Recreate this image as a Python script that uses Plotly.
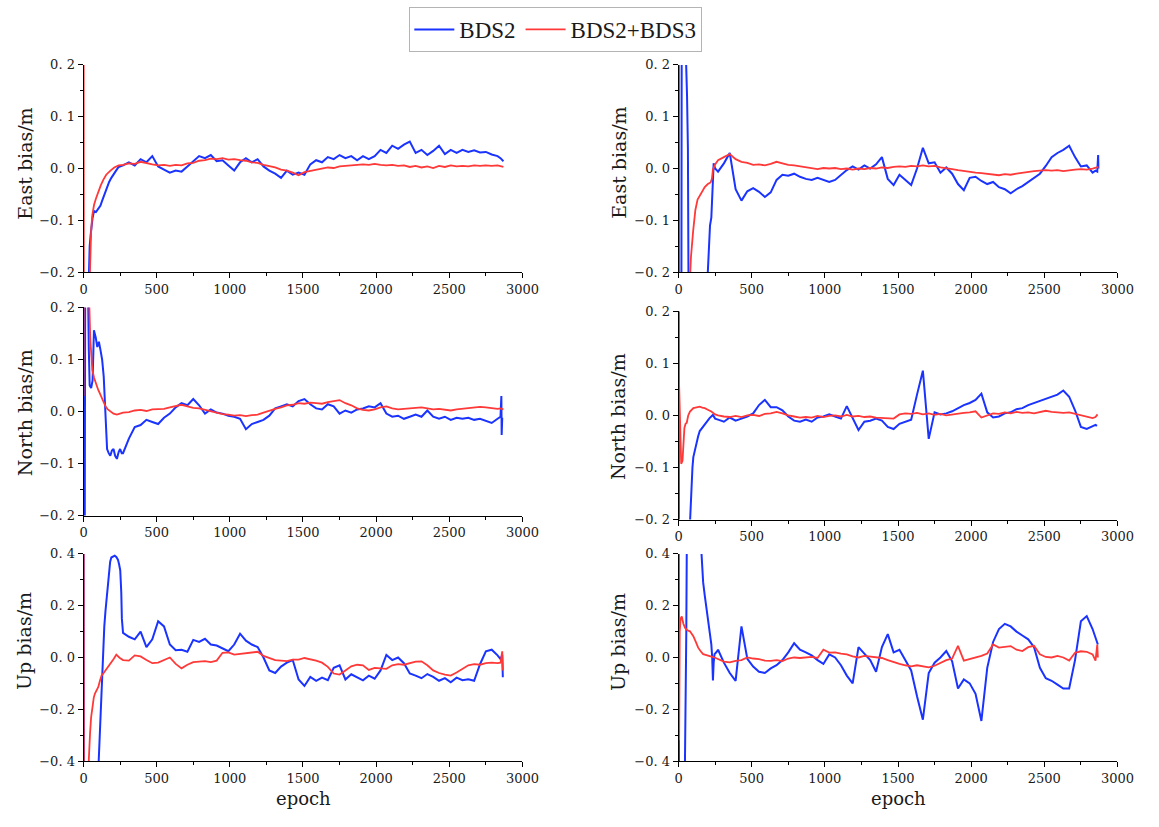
import plotly.graph_objects as go

# ---------------- data ----------------
# common sampling epochs for the steady part of every series
GRID = list(range(270, 2831, 40))

X_TICKS = [0, 500, 1000, 1500, 2000, 2500, 3000]
Y_TICKS_SMALL = [-0.2, -0.1, 0.0, 0.1, 0.2]
Y_TICKS_SMALL_TEXT = ["\u22120.\u00a02", "\u22120.\u00a01", "0.\u00a00", "0.\u00a01", "0.\u00a02"]
Y_TICKS_UP = [-0.4, -0.2, 0.0, 0.2, 0.4]
Y_TICKS_UP_TEXT = ["\u22120.\u00a04", "\u22120.\u00a02", "0.\u00a00", "0.\u00a02", "0.\u00a04"]

# ---- East, left panel ----
east_l_bds2_head_x = [0, 3, 36, 42, 48, 55, 62, 72, 85, 100, 115, 130, 145, 160, 175, 190, 205, 220, 240]
east_l_bds2_head_y = [-0.6, -0.6, -0.2, -0.15, -0.13, -0.11, -0.095, -0.082, -0.084, -0.078, -0.072, -0.06,
                      -0.048, -0.036, -0.026, -0.018, -0.01, -0.005, 0.003]
east_l_bds2_body = [0.006, 0.012, 0.006, 0.018, 0.012,
                    0.024, 0.004, -0.002, -0.008, -0.004,
                    -0.006, 0.004, 0.014, 0.024, 0.02,
                    0.026, 0.014, 0.016, 0.006, -0.004,
                    0.012, 0.02, 0.012, 0.018, 0.004,
                    -0.004, -0.01, -0.018, -0.004, -0.012,
                    -0.008, -0.012, 0.008, 0.016, 0.012,
                    0.022, 0.018, 0.026, 0.02, 0.024,
                    0.016, 0.024, 0.018, 0.024, 0.036,
                    0.03, 0.044, 0.038, 0.046, 0.052,
                    0.03, 0.036, 0.026, 0.034, 0.044,
                    0.028, 0.036, 0.03, 0.036, 0.032,
                    0.035, 0.031, 0.032, 0.027, 0.024]
east_l_bds2_tail_x = [2850, 2870]
east_l_bds2_tail_y = [0.02, 0.014]

east_l_both_head_x = [0, 3, 40, 46, 52, 60, 72, 85, 100, 117, 135, 155, 184, 210, 240]
east_l_both_head_y = [0.6, -0.6, -0.24, -0.17, -0.12, -0.09, -0.07, -0.058, -0.045, -0.033, -0.022, -0.012,
                      -0.004, 0.002, 0.006]
east_l_both_body = [0.007, 0.01, 0.009, 0.013, 0.01,
                    0.008, 0.006, 0.007, 0.005, 0.007,
                    0.006, 0.01, 0.011, 0.015, 0.016,
                    0.019, 0.018, 0.02, 0.017, 0.018,
                    0.016, 0.015, 0.012, 0.011, 0.007,
                    0.005, 0.002, -0.002, -0.004, -0.008,
                    -0.013, -0.007, -0.005, -0.002, -0.001,
                    0.002, 0.001, 0.004, 0.005, 0.006,
                    0.006, 0.008, 0.007, 0.009, 0.007,
                    0.006, 0.007, 0.005, 0.006, 0.003,
                    0.005, 0.002, 0.004, 0.001, 0.005,
                    0.003, 0.006, 0.004, 0.005, 0.004,
                    0.006, 0.005, 0.006, 0.005, 0.006]
east_l_both_tail_x = [2850, 2870]
east_l_both_tail_y = [0.005, 0.003]

# ---- East, right panel ----
east_r_bds2_head_x = [0, 3, 18, 22, 30, 38, 46, 52, 58, 64, 70, 190, 200, 208, 215, 224, 232, 240, 250]
east_r_bds2_head_y = [0.6, -0.6, -0.6, 0.35, 0.24, 0.3, 0.22, 0.2, 0.14, 0.04, -0.35, -0.35, -0.2, -0.14,
                      -0.11, -0.095, -0.03, 0.01, 0.0]
east_r_bds2_body = [-0.006, 0.01, 0.03, -0.04, -0.062,
                    -0.044, -0.038, -0.045, -0.055, -0.046,
                    -0.022, -0.012, -0.014, -0.01, -0.016,
                    -0.02, -0.022, -0.018, -0.022, -0.026,
                    -0.022, -0.012, -0.003, 0.004, -0.002,
                    0.006, 0.0, 0.008, 0.022, -0.02,
                    -0.032, -0.012, -0.022, -0.032, 0.0,
                    0.04, 0.01, 0.012, -0.008, 0.002,
                    -0.01, -0.03, -0.042, -0.018, -0.016,
                    -0.024, -0.03, -0.026, -0.036, -0.04,
                    -0.048, -0.04, -0.034, -0.026, -0.018,
                    -0.01, 0.005, 0.022, 0.03, 0.036,
                    0.044, 0.022, 0.004, 0.006, -0.008]
east_r_bds2_tail_x = [2850, 2862, 2868, 2870]
east_r_bds2_tail_y = [-0.004, -0.006, 0.026, 0.0]

east_r_both_head_x = [0, 3, 72, 85, 100, 115, 130, 145, 160, 179, 200, 219, 228, 235, 250]
east_r_both_head_y = [0.6, -0.6, -0.25, -0.17, -0.12, -0.08, -0.06, -0.052, -0.045, -0.036, -0.03, -0.027,
                      -0.02, -0.002, 0.008]
east_r_both_body = [0.016, 0.022, 0.028, 0.018, 0.013,
                    0.011, 0.007, 0.008, 0.006, 0.009,
                    0.013, 0.01, 0.007, 0.006, 0.004,
                    0.003, 0.001, -0.001, 0.001, 0.0,
                    0.001, -0.001, 0.0, -0.002, 0.0,
                    -0.001, 0.001, 0.0, 0.002, 0.001,
                    0.003, 0.004, 0.003, 0.005, 0.004,
                    0.006, 0.004, 0.005, 0.002, 0.001,
                    -0.001, -0.003, -0.005, -0.006, -0.008,
                    -0.009, -0.01, -0.012, -0.013, -0.011,
                    -0.012, -0.01, -0.008, -0.007, -0.005,
                    -0.004, -0.003, -0.004, -0.003, -0.005,
                    -0.003, -0.002, -0.001, -0.002, 0.0]
east_r_both_tail_x = [2850, 2870]
east_r_both_tail_y = [0.001, 0.003]

# ---- North, left panel ----
north_l_bds2_head_x = [0, 6, 12, 20, 30, 36, 42, 52, 62, 71, 83, 94, 105, 116, 127, 138, 150, 161, 172, 183,
                       194, 205, 216, 228, 240, 250, 261]
north_l_bds2_head_y = [-0.6, -0.6, 0.35, 0.3, 0.25, 0.12, 0.05, 0.045, 0.06, 0.156, 0.143, 0.124, 0.134,
                       0.118, 0.1, 0.067, 0.0, -0.072, -0.08, -0.085, -0.075, -0.072, -0.085, -0.091,
                       -0.078, -0.072, -0.08]
north_l_bds2_body = [-0.08, -0.052, -0.03, -0.026, -0.016,
                     -0.02, -0.024, -0.012, -0.004, 0.008,
                     0.016, 0.012, 0.024, 0.012, -0.004,
                     0.004, -0.002, -0.004, -0.008, -0.01,
                     -0.014, -0.034, -0.024, -0.02, -0.016,
                     -0.008, 0.006, 0.01, 0.014, 0.01,
                     0.02, 0.024, 0.014, 0.006, 0.004,
                     0.014, 0.01, -0.004, 0.002, -0.002,
                     0.004, 0.006, 0.01, 0.008, 0.016,
                     -0.004, -0.01, -0.008, -0.014, -0.01,
                     -0.006, -0.01, 0.002, -0.01, -0.014,
                     -0.01, -0.016, -0.012, -0.014, -0.012,
                     -0.016, -0.014, -0.018, -0.022, -0.014]
north_l_bds2_tail_x = [2850, 2856, 2858, 2862]
north_l_bds2_tail_y = [-0.01, 0.03, -0.045, -0.012]

north_l_both_head_x = [0, 2, 8, 30, 40, 46, 52, 60, 72, 83, 100, 116, 133, 150, 166, 183, 205, 228, 250]
north_l_both_head_y = [0.03, 0.6, 0.3, 0.25, 0.2, 0.14, 0.1, 0.08, 0.065, 0.054, 0.042, 0.032, 0.02, 0.01,
                       0.004, 0.001, -0.004, -0.006, -0.004]
north_l_both_body = [-0.002, -0.001, 0.002, 0.003, 0.001,
                     0.004, 0.004, 0.005, 0.008, 0.01,
                     0.013, 0.01, 0.007, 0.006, 0.003,
                     0.001, -0.002, -0.005, -0.006, -0.008,
                     -0.007, -0.009, -0.007, -0.006, -0.002,
                     0.002, 0.005, 0.008, 0.012, 0.013,
                     0.016, 0.015, 0.017, 0.016, 0.015,
                     0.018, 0.02, 0.022, 0.016, 0.012,
                     0.006, 0.003, 0.002, 0.004, 0.008,
                     0.01, 0.006, 0.004, 0.005, 0.006,
                     0.007, 0.008, 0.006, 0.004, 0.005,
                     0.003, 0.002, 0.004, 0.005, 0.006,
                     0.007, 0.009, 0.008, 0.006, 0.005]
north_l_both_tail_x = [2850, 2870]
north_l_both_tail_y = [0.006, 0.004]

# ---- North, right panel ----
north_r_bds2_head_x = [0, 3, 76, 82, 89, 95, 101, 112, 123, 134, 145, 160, 179, 195, 212, 235, 250]
north_r_bds2_head_y = [0.6, -0.6, -0.22, -0.17, -0.137, -0.1, -0.08, -0.065, -0.055, -0.04, -0.03, -0.024,
                       -0.018, -0.01, -0.005, 0.001, -0.006]
north_r_bds2_body = [-0.008, -0.012, -0.004, -0.01, -0.006,
                     -0.002, 0.004, 0.02, 0.03, 0.016,
                     0.016, 0.01, -0.002, -0.01, -0.012,
                     -0.008, -0.012, -0.004, -0.002, 0.002,
                     -0.002, -0.006, 0.018, -0.004, -0.028,
                     -0.012, -0.01, -0.006, -0.01, -0.022,
                     -0.026, -0.016, -0.012, -0.008, 0.04,
                     0.086, -0.045, 0.006, 0.002, 0.004,
                     0.008, 0.014, 0.02, 0.024, 0.03,
                     0.042, 0.006, -0.004, -0.002, 0.004,
                     0.006, 0.012, 0.014, 0.02, 0.024,
                     0.028, 0.032, 0.036, 0.04, 0.048,
                     0.036, 0.01, -0.022, -0.026, -0.02]
north_r_bds2_tail_x = [2850, 2860]
north_r_bds2_tail_y = [-0.018, -0.02]

north_r_both_head_x = [0, 5, 12, 18, 27, 34, 40, 48, 56, 66, 78, 101, 125, 145, 162, 179, 200, 224, 250]
north_r_both_head_y = [0.1, 0.05, -0.05, -0.093, -0.087, -0.05, -0.024, -0.016, -0.014, 0.0, 0.0075, 0.014,
                       0.016, 0.017, 0.015, 0.014, 0.011, 0.0075, 0.002]
north_r_both_body = [0.0, -0.002, -0.003, -0.001, -0.003,
                     0.0, 0.001, -0.001, 0.003, 0.004,
                     0.007, 0.004, 0.0, -0.002, -0.004,
                     -0.003, -0.004, -0.001, -0.003, -0.001,
                     0.0, -0.002, 0.001, -0.002, -0.001,
                     -0.003, -0.002, -0.004, -0.005, -0.006,
                     -0.006, 0.002, 0.004, 0.003, 0.005,
                     0.002, 0.004, 0.001, 0.003, 0.0,
                     0.002, 0.004, 0.005, 0.006, 0.008,
                     -0.004, 0.0, 0.004, 0.003, 0.006,
                     0.004, 0.007, 0.005, 0.006, 0.004,
                     0.007, 0.009, 0.007, 0.006, 0.005,
                     0.006, 0.003, 0.001, -0.003, -0.005]
north_r_both_tail_x = [2850, 2864]
north_r_both_tail_y = [-0.003, 0.002]

# ---- Up, left panel ----
up_l_bds2_head_x = [0, 3, 100, 110, 118, 123, 128, 134, 142, 150, 157, 166, 175, 182, 190, 200, 213, 224,
                    235, 243, 251, 258, 262]
up_l_bds2_head_y = [0.9, -0.9, -0.45, -0.3, -0.2, -0.089, -0.02, 0.036, 0.12, 0.18, 0.224, 0.29, 0.349,
                    0.37, 0.386, 0.39, 0.393, 0.388, 0.378, 0.36, 0.336, 0.25, 0.15]
up_l_bds2_body = [0.095, 0.08, 0.07, 0.1, 0.04,
                  0.07, 0.14, 0.12, 0.05, 0.028,
                  0.03, 0.022, 0.068, 0.06, 0.072,
                  0.05, 0.046, 0.036, 0.024, 0.05,
                  0.092, 0.065, 0.05, 0.04, 0.0,
                  -0.05, -0.06, -0.035, -0.02, -0.01,
                  -0.085, -0.11, -0.075, -0.09, -0.078,
                  -0.088, -0.04, -0.03, -0.085, -0.065,
                  -0.075, -0.088, -0.07, -0.082, -0.05,
                  0.01, -0.01, 0.0, -0.022, -0.062,
                  -0.07, -0.08, -0.064, -0.075, -0.09,
                  -0.08, -0.096, -0.078, -0.088, -0.084,
                  -0.09, -0.026, 0.024, 0.03, 0.008]
up_l_bds2_tail_x = [2850, 2862, 2866]
up_l_bds2_tail_y = [-0.006, 0.01, -0.076]

up_l_both_head_x = [0, 3, 34, 40, 45, 52, 63, 70, 78, 90, 101, 112, 123, 140, 157, 174, 190, 207, 224, 246]
up_l_both_head_y = [0.9, -0.9, -0.42, -0.33, -0.289, -0.23, -0.176, -0.155, -0.139, -0.125, -0.114, -0.09,
                    -0.07, -0.058, -0.045, -0.032, -0.02, -0.005, 0.011, -0.001]
up_l_both_body = [-0.01, -0.012, 0.008, 0.004, -0.01,
                  -0.022, -0.02, -0.01, 0.0, -0.025,
                  -0.042, -0.028, -0.018, -0.016, -0.014,
                  -0.018, -0.012, 0.018, 0.02, 0.011,
                  0.014, 0.018, 0.02, 0.022, 0.006,
                  -0.002, -0.01, -0.012, -0.014, -0.008,
                  -0.008, -0.002, -0.006, -0.012, -0.02,
                  -0.036, -0.062, -0.066, -0.05, -0.034,
                  -0.028, -0.03, -0.048, -0.04, -0.042,
                  -0.044, -0.03, -0.026, -0.028, -0.022,
                  -0.016, -0.015, -0.03, -0.05, -0.06,
                  -0.066, -0.07, -0.058, -0.045, -0.03,
                  -0.026, -0.028, -0.022, -0.02, -0.022]
up_l_both_tail_x = [2850, 2862, 2866]
up_l_both_tail_y = [-0.02, 0.024, -0.05]

# ---- Up, right panel ----
up_r_bds2_head_x = [0, 4, 42, 48, 53, 58, 150, 157, 168, 179, 190, 201, 212, 224, 230, 235, 240, 246, 258]
up_r_bds2_head_y = [0.9, -0.9, -0.5, -0.24, 0.1, 0.6, 0.6, 0.4, 0.291, 0.24, 0.19, 0.139, 0.09, 0.051, 0.0,
                    -0.089, -0.02, 0.013, 0.02]
up_r_bds2_body = [0.03, -0.02, -0.06, -0.09, 0.12,
                  -0.005, -0.035, -0.055, -0.06, -0.042,
                  -0.03, -0.01, 0.02, 0.055, 0.03,
                  0.02, 0.008, -0.01, -0.025, 0.012,
                  0.0, -0.03, -0.07, -0.1, 0.04,
                  0.015, -0.01, -0.055, 0.04, 0.09,
                  0.02, 0.03, -0.01, -0.05, -0.15,
                  -0.24, -0.06, -0.02, 0.0, 0.025,
                  -0.015, -0.12, -0.085, -0.1, -0.14,
                  -0.245, -0.04, 0.06, 0.11, 0.13,
                  0.12, 0.1, 0.085, 0.07, 0.04,
                  -0.04, -0.08, -0.09, -0.105, -0.12,
                  -0.12, -0.01, 0.14, 0.16, 0.11]
up_r_bds2_tail_x = [2850, 2866]
up_r_bds2_tail_y = [0.08, 0.05]

up_r_both_head_x = [0, 4, 8, 14, 22, 33, 45, 60, 78, 90, 101, 118, 134, 150, 168, 185, 201, 224, 246]
up_r_both_head_y = [0.9, -0.32, 0.1, 0.15, 0.158, 0.13, 0.114, 0.105, 0.101, 0.09, 0.082, 0.06, 0.038,
                    0.025, 0.013, 0.01, 0.006, 0.003, 0.0]
up_r_both_body = [-0.006, -0.016, -0.019, -0.013, -0.01,
                  0.0, -0.004, -0.006, -0.012, -0.013,
                  -0.01, -0.014, -0.004, 0.0, -0.002,
                  0.0, 0.002, -0.002, 0.03, 0.019,
                  0.02, 0.015, 0.012, 0.004, 0.0,
                  0.006, 0.004, 0.0, -0.002, -0.01,
                  -0.018, -0.025, -0.03, -0.034, -0.03,
                  -0.034, -0.038, -0.032, -0.02, -0.01,
                  -0.004, 0.045, -0.012, -0.006, 0.0,
                  0.006, 0.015, 0.05, 0.038, 0.04,
                  0.044, 0.03, 0.025, 0.04, 0.045,
                  0.012, 0.002, 0.0, 0.006, 0.0,
                  -0.012, 0.018, 0.024, 0.022, 0.012]
up_r_both_tail_x = [2850, 2862, 2866]
up_r_both_tail_y = [-0.012, 0.05, 0.0]

# ---------------- figure ----------------
W, H = 1159, 827
BLUE = "#1a33ff"
RED = "#ff3838"
SERIF = "DejaVu Serif"
TEXT = "#1a1a1a"


def series(hx, hy, body, tx, ty):
    assert len(hx) == len(hy) and len(body) == len(GRID) and len(tx) == len(ty)
    return hx + GRID + tx, hy + body + ty


def xd(a, b):
    return [a / W, b / W]


def yd(top, bottom):
    return [1 - bottom / H, 1 - top / H]


panels = [
    # axis id, x-domain, y-domain, label, ticks, tick text, minor step, bds2 data, bds2+bds3 data
    ("", xd(81, 528), yd(59, 270), "East bias/m", Y_TICKS_SMALL, Y_TICKS_SMALL_TEXT, 0.05,
     (east_l_bds2_head_x, east_l_bds2_head_y, east_l_bds2_body, east_l_bds2_tail_x, east_l_bds2_tail_y),
     (east_l_both_head_x, east_l_both_head_y, east_l_both_body, east_l_both_tail_x, east_l_both_tail_y)),
    ("2", xd(687, 1134), yd(59, 270), "East bias/m", Y_TICKS_SMALL, Y_TICKS_SMALL_TEXT, 0.05,
     (east_r_bds2_head_x, east_r_bds2_head_y, east_r_bds2_body, east_r_bds2_tail_x, east_r_bds2_tail_y),
     (east_r_both_head_x, east_r_both_head_y, east_r_both_body, east_r_both_tail_x, east_r_both_tail_y)),
    ("3", xd(81, 528), yd(306, 518), "North bias/m", Y_TICKS_SMALL, Y_TICKS_SMALL_TEXT, 0.05,
     (north_l_bds2_head_x, north_l_bds2_head_y, north_l_bds2_body, north_l_bds2_tail_x, north_l_bds2_tail_y),
     (north_l_both_head_x, north_l_both_head_y, north_l_both_body, north_l_both_tail_x, north_l_both_tail_y)),
    ("4", xd(687, 1134), yd(310, 522), "North bias/m", Y_TICKS_SMALL, Y_TICKS_SMALL_TEXT, 0.05,
     (north_r_bds2_head_x, north_r_bds2_head_y, north_r_bds2_body, north_r_bds2_tail_x, north_r_bds2_tail_y),
     (north_r_both_head_x, north_r_both_head_y, north_r_both_body, north_r_both_tail_x, north_r_both_tail_y)),
    ("5", xd(81, 528), yd(557, 768), "Up bias/m", Y_TICKS_UP, Y_TICKS_UP_TEXT, 0.1,
     (up_l_bds2_head_x, up_l_bds2_head_y, up_l_bds2_body, up_l_bds2_tail_x, up_l_bds2_tail_y),
     (up_l_both_head_x, up_l_both_head_y, up_l_both_body, up_l_both_tail_x, up_l_both_tail_y)),
    ("6", xd(687, 1134), yd(557, 768), "Up bias/m", Y_TICKS_UP, Y_TICKS_UP_TEXT, 0.1,
     (up_r_bds2_head_x, up_r_bds2_head_y, up_r_bds2_body, up_r_bds2_tail_x, up_r_bds2_tail_y),
     (up_r_both_head_x, up_r_both_head_y, up_r_both_body, up_r_both_tail_x, up_r_both_tail_y)),
]

# y-label centres (pixels) for each panel
YLABEL_POS = [(21, 160), (626, 159), (21, 413), (626, 417), (21, 646), (626, 647)]

fig = go.Figure()
layout = dict(
    width=W, height=H,
    margin=dict(l=0, r=0, t=0, b=0),
    paper_bgcolor="white", plot_bgcolor="white",
    showlegend=True,
    legend=dict(orientation="h", x=562 / W, xanchor="center", y=1.0, yanchor="top",
                bgcolor="white", bordercolor="#b4b4b4", borderwidth=1,
                font=dict(family="Liberation Serif", size=23, color=TEXT),
                itemwidth=40, tracegroupgap=0),
)
annotations = []

for i, (aid, xdom, ydom, label, yt, ytt, ymin, b2, b23) in enumerate(panels):
    xa = "x" + aid
    ya = "y" + aid
    bx, by = series(*b2)
    rx, ry = series(*b23)
    fig.add_trace(go.Scatter(x=bx, y=by, mode="lines", name="BDS2", legendgroup="bds2",
                             showlegend=(i == 0), line=dict(color=BLUE, width=2.0),
                             xaxis=xa, yaxis=ya))
    fig.add_trace(go.Scatter(x=rx, y=ry, mode="lines", name="BDS2+BDS3", legendgroup="bds23",
                             showlegend=(i == 0), line=dict(color=RED, width=1.8),
                             xaxis=xa, yaxis=ya))
    ax_common = dict(showline=True, linecolor="black", linewidth=1, ticks="outside", ticklen=5,
                     tickcolor="black", showgrid=False, zeroline=False, mirror=False,
                     tickfont=dict(family=SERIF, size=13, color=TEXT))
    layout["xaxis" + aid] = dict(ax_common, domain=xdom, anchor=ya, range=[0, 3000],
                                 tickmode="array", tickvals=X_TICKS,
                                 ticktext=[str(v) for v in X_TICKS],
                                 minor=dict(tickmode="linear", tick0=0, dtick=250, ticks="outside",
                                            ticklen=3, tickcolor="black"))
    layout["yaxis" + aid] = dict(ax_common, domain=ydom, anchor=xa, range=[yt[0], yt[-1]],
                                 tickmode="array", tickvals=yt, ticktext=ytt,
                                 minor=dict(tickmode="linear", tick0=0, dtick=ymin, ticks="outside",
                                            ticklen=3, tickcolor="black"))
    lx, ly = YLABEL_POS[i]
    annotations.append(dict(text=label, x=lx / W, y=1 - ly / H, xref="paper", yref="paper",
                            xanchor="center", yanchor="middle", textangle=-90, showarrow=False,
                            font=dict(family=SERIF, size=19, color=TEXT)))

for cx in (305, 911):
    annotations.append(dict(text="epoch", x=cx / W, y=1 - 806 / H, xref="paper", yref="paper",
                            xanchor="center", yanchor="middle", showarrow=False,
                            font=dict(family=SERIF, size=18, color=TEXT)))

layout["annotations"] = annotations
fig.update_layout(**layout)
fig.write_html("out.html")
